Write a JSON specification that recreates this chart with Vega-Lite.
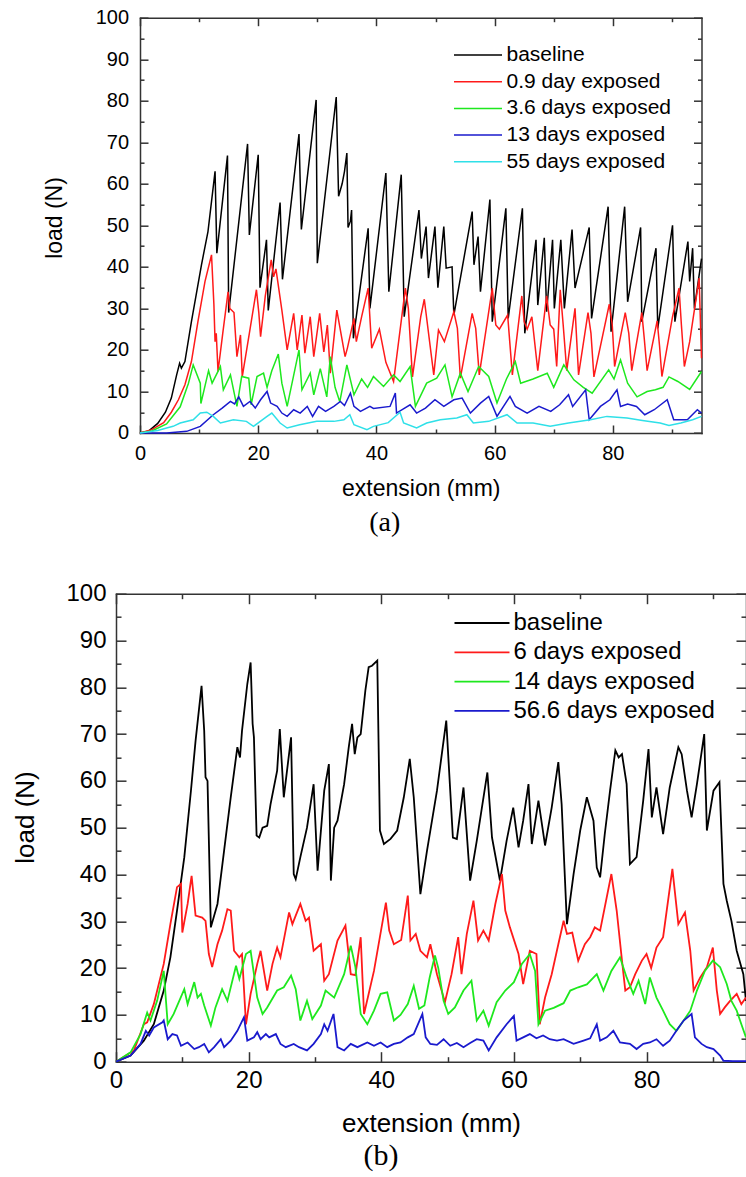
{
"$schema": "https://vega.github.io/schema/vega-lite/v6.json",
"background": "white",
"padding": {"left": 0, "top": 7.7, "right": 0, "bottom": 0},
"config": {
  "font": "Liberation Sans",
  "view": {"stroke": null},
  "axis": {"domainColor": "#333333", "domainWidth": 1.5, "domainCap": "square", "tickColor": "#333333", "tickWidth": 1.5, "grid": false, "labelColor": "#000000", "titleColor": "#000000", "titleFontWeight": "normal", "labelFlush": false, "labelOverlap": false, "labelFont": "Liberation Sans", "titleFont": "Liberation Sans"}
},
"datasets": {
"a": [
{"s":"baseline","x":0,"y":0},{"s":"baseline","x":1.5,"y":0.5},{"s":"baseline","x":3,"y":2.3},{"s":"baseline","x":4.3,"y":5},{"s":"baseline","x":5.3,"y":8.4},{"s":"baseline","x":6.2,"y":14},{"s":"baseline","x":6.7,"y":16.8},{"s":"baseline","x":7,"y":15.6},{"s":"baseline","x":7.6,"y":17.2},{"s":"baseline","x":8.7,"y":26.8},{"s":"baseline","x":10.4,"y":40.5},{"s":"baseline","x":11.5,"y":48.5},{"s":"baseline","x":12.7,"y":63},{"s":"baseline","x":13,"y":43.3},{"s":"baseline","x":14.8,"y":66.8},{"s":"baseline","x":15,"y":29},{"s":"baseline","x":18.2,"y":69.6},{"s":"baseline","x":18.5,"y":47.7},{"s":"baseline","x":20,"y":67},{"s":"baseline","x":20.3,"y":35},{"s":"baseline","x":21.4,"y":46.5},{"s":"baseline","x":21.7,"y":29.5},{"s":"baseline","x":23.7,"y":55.5},{"s":"baseline","x":24.1,"y":37},{"s":"baseline","x":26.9,"y":72},{"s":"baseline","x":27.3,"y":49},{"s":"baseline","x":29.8,"y":80.2},{"s":"baseline","x":30,"y":40.9},{"s":"baseline","x":33.2,"y":80.9},{"s":"baseline","x":33.6,"y":57},{"s":"baseline","x":34.2,"y":60},{"s":"baseline","x":34.6,"y":63},{"s":"baseline","x":35,"y":67.4},{"s":"baseline","x":35.2,"y":49.5},{"s":"baseline","x":35.6,"y":51},{"s":"baseline","x":35.8,"y":53.7},{"s":"baseline","x":36.1,"y":22.8},{"s":"baseline","x":38.6,"y":49.3},{"s":"baseline","x":38.9,"y":30},{"s":"baseline","x":41.6,"y":62.6},{"s":"baseline","x":42.1,"y":34},{"s":"baseline","x":44.2,"y":62.2},{"s":"baseline","x":44.7,"y":28},{"s":"baseline","x":47.2,"y":53.7},{"s":"baseline","x":47.6,"y":42},{"s":"baseline","x":48.4,"y":49.7},{"s":"baseline","x":48.8,"y":37.3},{"s":"baseline","x":49.9,"y":49.7},{"s":"baseline","x":50.4,"y":35},{"s":"baseline","x":51.4,"y":49.7},{"s":"baseline","x":51.8,"y":39.7},{"s":"baseline","x":52.8,"y":40},{"s":"baseline","x":53.1,"y":28.4},{"s":"baseline","x":56.2,"y":53.3},{"s":"baseline","x":56.5,"y":40.5},{"s":"baseline","x":57.2,"y":47.3},{"s":"baseline","x":57.6,"y":34},{"s":"baseline","x":59.2,"y":56.2},{"s":"baseline","x":59.6,"y":26.8},{"s":"baseline","x":61.9,"y":54.1},{"s":"baseline","x":62.3,"y":27.6},{"s":"baseline","x":64.7,"y":54.1},{"s":"baseline","x":65.1,"y":24},{"s":"baseline","x":67,"y":46.5},{"s":"baseline","x":67.3,"y":30.8},{"s":"baseline","x":68.4,"y":47},{"s":"baseline","x":68.8,"y":29.2},{"s":"baseline","x":69.8,"y":46.5},{"s":"baseline","x":70.1,"y":30},{"s":"baseline","x":71.2,"y":46.5},{"s":"baseline","x":71.8,"y":30},{"s":"baseline","x":73.1,"y":49},{"s":"baseline","x":73.6,"y":34.9},{"s":"baseline","x":76,"y":49.5},{"s":"baseline","x":76.4,"y":27.6},{"s":"baseline","x":79.2,"y":54.5},{"s":"baseline","x":79.7,"y":24.4},{"s":"baseline","x":82,"y":54.5},{"s":"baseline","x":82.5,"y":31.6},{"s":"baseline","x":84.7,"y":49.5},{"s":"baseline","x":84.9,"y":26.8},{"s":"baseline","x":87.3,"y":44.5},{"s":"baseline","x":87.6,"y":25.2},{"s":"baseline","x":90.1,"y":50},{"s":"baseline","x":90.5,"y":26.8},{"s":"baseline","x":92.7,"y":46.1},{"s":"baseline","x":93,"y":36.5},{"s":"baseline","x":93.5,"y":44.5},{"s":"baseline","x":93.8,"y":30},{"s":"baseline","x":95,"y":42},
{"s":"0.9 day exposed","x":0,"y":0},{"s":"0.9 day exposed","x":2,"y":0.8},{"s":"0.9 day exposed","x":4,"y":2.5},{"s":"0.9 day exposed","x":5.3,"y":5},{"s":"0.9 day exposed","x":6.5,"y":8},{"s":"0.9 day exposed","x":7.6,"y":11.6},{"s":"0.9 day exposed","x":8.7,"y":17.2},{"s":"0.9 day exposed","x":9.8,"y":26.8},{"s":"0.9 day exposed","x":11,"y":36.5},{"s":"0.9 day exposed","x":12.1,"y":42.9},{"s":"0.9 day exposed","x":12.5,"y":31},{"s":"0.9 day exposed","x":12.7,"y":22},{"s":"0.9 day exposed","x":12.9,"y":24},{"s":"0.9 day exposed","x":13.2,"y":14.8},{"s":"0.9 day exposed","x":14,"y":24},{"s":"0.9 day exposed","x":14.9,"y":34},{"s":"0.9 day exposed","x":15.2,"y":30},{"s":"0.9 day exposed","x":15.9,"y":29},{"s":"0.9 day exposed","x":16.4,"y":18.4},{"s":"0.9 day exposed","x":17,"y":23.6},{"s":"0.9 day exposed","x":17.3,"y":13.6},{"s":"0.9 day exposed","x":18.5,"y":24},{"s":"0.9 day exposed","x":19.7,"y":34.5},{"s":"0.9 day exposed","x":20.1,"y":29},{"s":"0.9 day exposed","x":20.4,"y":23.2},{"s":"0.9 day exposed","x":21.2,"y":33},{"s":"0.9 day exposed","x":22.2,"y":41.7},{"s":"0.9 day exposed","x":22.6,"y":37.6},{"s":"0.9 day exposed","x":23,"y":39.5},{"s":"0.9 day exposed","x":24,"y":29.6},{"s":"0.9 day exposed","x":24.9,"y":20},{"s":"0.9 day exposed","x":26,"y":28.8},{"s":"0.9 day exposed","x":26.6,"y":20},{"s":"0.9 day exposed","x":27.4,"y":28.4},{"s":"0.9 day exposed","x":27.9,"y":19.2},{"s":"0.9 day exposed","x":28.8,"y":28},{"s":"0.9 day exposed","x":29.4,"y":18.4},{"s":"0.9 day exposed","x":30.4,"y":28.8},{"s":"0.9 day exposed","x":31.1,"y":19.5},{"s":"0.9 day exposed","x":31.7,"y":26},{"s":"0.9 day exposed","x":32.2,"y":14.4},{"s":"0.9 day exposed","x":33.3,"y":29.6},{"s":"0.9 day exposed","x":34.7,"y":18.4},{"s":"0.9 day exposed","x":35.1,"y":20.5},{"s":"0.9 day exposed","x":36.2,"y":27.6},{"s":"0.9 day exposed","x":36.6,"y":22},{"s":"0.9 day exposed","x":37.5,"y":28},{"s":"0.9 day exposed","x":38.6,"y":34.9},{"s":"0.9 day exposed","x":39.2,"y":20.4},{"s":"0.9 day exposed","x":40.5,"y":25},{"s":"0.9 day exposed","x":41.6,"y":17},{"s":"0.9 day exposed","x":42.9,"y":12.4},{"s":"0.9 day exposed","x":44.9,"y":34.9},{"s":"0.9 day exposed","x":45.4,"y":30},{"s":"0.9 day exposed","x":46.1,"y":13.5},{"s":"0.9 day exposed","x":47.5,"y":28},{"s":"0.9 day exposed","x":48.1,"y":32.2},{"s":"0.9 day exposed","x":49.7,"y":14},{"s":"0.9 day exposed","x":50.5,"y":24.8},{"s":"0.9 day exposed","x":51.5,"y":22},{"s":"0.9 day exposed","x":53.1,"y":29.2},{"s":"0.9 day exposed","x":53.7,"y":25.2},{"s":"0.9 day exposed","x":54.2,"y":13.2},{"s":"0.9 day exposed","x":56.2,"y":28.8},{"s":"0.9 day exposed","x":56.8,"y":25.2},{"s":"0.9 day exposed","x":57.4,"y":14},{"s":"0.9 day exposed","x":59.6,"y":34.9},{"s":"0.9 day exposed","x":60.2,"y":26},{"s":"0.9 day exposed","x":60.8,"y":25},{"s":"0.9 day exposed","x":62.2,"y":28.4},{"s":"0.9 day exposed","x":63,"y":14},{"s":"0.9 day exposed","x":64.6,"y":33},{"s":"0.9 day exposed","x":65,"y":26.8},{"s":"0.9 day exposed","x":65.5,"y":25},{"s":"0.9 day exposed","x":66.3,"y":28},{"s":"0.9 day exposed","x":67.3,"y":15},{"s":"0.9 day exposed","x":68.8,"y":33},{"s":"0.9 day exposed","x":69.4,"y":26},{"s":"0.9 day exposed","x":70,"y":25},{"s":"0.9 day exposed","x":70.5,"y":16},{"s":"0.9 day exposed","x":71.1,"y":34.5},{"s":"0.9 day exposed","x":71.6,"y":26},{"s":"0.9 day exposed","x":72.2,"y":15},{"s":"0.9 day exposed","x":73.6,"y":30},{"s":"0.9 day exposed","x":74.2,"y":14},{"s":"0.9 day exposed","x":75.8,"y":29},{"s":"0.9 day exposed","x":76.3,"y":24},{"s":"0.9 day exposed","x":76.8,"y":13.5},{"s":"0.9 day exposed","x":79.4,"y":31},{"s":"0.9 day exposed","x":79.9,"y":26},{"s":"0.9 day exposed","x":80.3,"y":16},{"s":"0.9 day exposed","x":82.1,"y":29},{"s":"0.9 day exposed","x":82.7,"y":24},{"s":"0.9 day exposed","x":83.2,"y":15},{"s":"0.9 day exposed","x":84.9,"y":29},{"s":"0.9 day exposed","x":85.3,"y":23},{"s":"0.9 day exposed","x":85.8,"y":15},{"s":"0.9 day exposed","x":87.5,"y":27},{"s":"0.9 day exposed","x":87.9,"y":21},{"s":"0.9 day exposed","x":88.3,"y":13.6},{"s":"0.9 day exposed","x":90.1,"y":28},{"s":"0.9 day exposed","x":91.2,"y":34.9},{"s":"0.9 day exposed","x":91.6,"y":26},{"s":"0.9 day exposed","x":92.1,"y":16},{"s":"0.9 day exposed","x":93,"y":22},{"s":"0.9 day exposed","x":94.6,"y":37.3},{"s":"0.9 day exposed","x":95,"y":18},
{"s":"3.6 days exposed","x":0,"y":0},{"s":"3.6 days exposed","x":2,"y":0.5},{"s":"3.6 days exposed","x":4.5,"y":2.2},{"s":"3.6 days exposed","x":6.8,"y":6.3},{"s":"3.6 days exposed","x":8.2,"y":12},{"s":"3.6 days exposed","x":9,"y":16.4},{"s":"3.6 days exposed","x":10.2,"y":12},{"s":"3.6 days exposed","x":10.3,"y":7.1},{"s":"3.6 days exposed","x":11.6,"y":15},{"s":"3.6 days exposed","x":12.2,"y":12},{"s":"3.6 days exposed","x":13.6,"y":16},{"s":"3.6 days exposed","x":14.1,"y":10.4},{"s":"3.6 days exposed","x":15.3,"y":14},{"s":"3.6 days exposed","x":16.4,"y":6.4},{"s":"3.6 days exposed","x":17.2,"y":13.6},{"s":"3.6 days exposed","x":18.4,"y":13.2},{"s":"3.6 days exposed","x":18.8,"y":6.8},{"s":"3.6 days exposed","x":19.8,"y":13.6},{"s":"3.6 days exposed","x":20.9,"y":14.4},{"s":"3.6 days exposed","x":21.5,"y":11},{"s":"3.6 days exposed","x":22.3,"y":15},{"s":"3.6 days exposed","x":23.4,"y":19},{"s":"3.6 days exposed","x":24,"y":12},{"s":"3.6 days exposed","x":24.9,"y":6.4},{"s":"3.6 days exposed","x":26.9,"y":20},{"s":"3.6 days exposed","x":27.4,"y":10.4},{"s":"3.6 days exposed","x":28.8,"y":14.4},{"s":"3.6 days exposed","x":29.4,"y":9.2},{"s":"3.6 days exposed","x":30.5,"y":15.5},{"s":"3.6 days exposed","x":31.6,"y":8.7},{"s":"3.6 days exposed","x":32.2,"y":18.4},{"s":"3.6 days exposed","x":33,"y":11},{"s":"3.6 days exposed","x":33.8,"y":7.5},{"s":"3.6 days exposed","x":35,"y":16.4},{"s":"3.6 days exposed","x":36.2,"y":9.2},{"s":"3.6 days exposed","x":37.5,"y":13},{"s":"3.6 days exposed","x":38.5,"y":11},{"s":"3.6 days exposed","x":39.5,"y":13.6},{"s":"3.6 days exposed","x":41.2,"y":11.2},{"s":"3.6 days exposed","x":42.9,"y":14},{"s":"3.6 days exposed","x":44,"y":12.4},{"s":"3.6 days exposed","x":45.7,"y":16},{"s":"3.6 days exposed","x":46.6,"y":6.4},{"s":"3.6 days exposed","x":48.5,"y":12},{"s":"3.6 days exposed","x":50.2,"y":13.2},{"s":"3.6 days exposed","x":51.6,"y":16.4},{"s":"3.6 days exposed","x":52.8,"y":8.7},{"s":"3.6 days exposed","x":54.2,"y":14.4},{"s":"3.6 days exposed","x":55.5,"y":10},{"s":"3.6 days exposed","x":57.3,"y":16},{"s":"3.6 days exposed","x":59,"y":13.6},{"s":"3.6 days exposed","x":60.4,"y":7.2},{"s":"3.6 days exposed","x":62,"y":13},{"s":"3.6 days exposed","x":63.5,"y":17.2},{"s":"3.6 days exposed","x":64.4,"y":12},{"s":"3.6 days exposed","x":66.5,"y":13},{"s":"3.6 days exposed","x":68.9,"y":14.4},{"s":"3.6 days exposed","x":70,"y":11},{"s":"3.6 days exposed","x":71.7,"y":16.4},{"s":"3.6 days exposed","x":73.4,"y":12.8},{"s":"3.6 days exposed","x":75,"y":11},{"s":"3.6 days exposed","x":76.5,"y":9.6},{"s":"3.6 days exposed","x":79.3,"y":15.2},{"s":"3.6 days exposed","x":80.2,"y":13},{"s":"3.6 days exposed","x":81.3,"y":17.6},{"s":"3.6 days exposed","x":82.5,"y":12},{"s":"3.6 days exposed","x":84.1,"y":8.7},{"s":"3.6 days exposed","x":85.8,"y":10},{"s":"3.6 days exposed","x":87.2,"y":10.4},{"s":"3.6 days exposed","x":88.5,"y":11},{"s":"3.6 days exposed","x":89.5,"y":13.5},{"s":"3.6 days exposed","x":91,"y":12.4},{"s":"3.6 days exposed","x":93,"y":10.5},{"s":"3.6 days exposed","x":95,"y":14.8},
{"s":"13 days exposed","x":0,"y":0},{"s":"13 days exposed","x":4.5,"y":0},{"s":"13 days exposed","x":7.9,"y":0.4},{"s":"13 days exposed","x":10.2,"y":1.6},{"s":"13 days exposed","x":12.4,"y":4.4},{"s":"13 days exposed","x":13.9,"y":6},{"s":"13 days exposed","x":15.3,"y":7.6},{"s":"13 days exposed","x":16,"y":7},{"s":"13 days exposed","x":16.7,"y":8.7},{"s":"13 days exposed","x":17.5,"y":6.4},{"s":"13 days exposed","x":18.6,"y":7.6},{"s":"13 days exposed","x":19.5,"y":6},{"s":"13 days exposed","x":20.4,"y":8},{"s":"13 days exposed","x":21.5,"y":10},{"s":"13 days exposed","x":22.1,"y":7.2},{"s":"13 days exposed","x":23.2,"y":6.4},{"s":"13 days exposed","x":24,"y":4.8},{"s":"13 days exposed","x":24.9,"y":4},{"s":"13 days exposed","x":26,"y":5.6},{"s":"13 days exposed","x":27.1,"y":4.8},{"s":"13 days exposed","x":28.3,"y":6.4},{"s":"13 days exposed","x":29.2,"y":4},{"s":"13 days exposed","x":30.2,"y":6.4},{"s":"13 days exposed","x":31.4,"y":5.2},{"s":"13 days exposed","x":32.8,"y":6.4},{"s":"13 days exposed","x":33.9,"y":7.6},{"s":"13 days exposed","x":34.6,"y":6.6},{"s":"13 days exposed","x":35.6,"y":9.6},{"s":"13 days exposed","x":36.2,"y":6.4},{"s":"13 days exposed","x":37.3,"y":5.2},{"s":"13 days exposed","x":38.9,"y":6.4},{"s":"13 days exposed","x":39.5,"y":5.9},{"s":"13 days exposed","x":42.3,"y":6.4},{"s":"13 days exposed","x":43.2,"y":9.6},{"s":"13 days exposed","x":43.4,"y":4.8},{"s":"13 days exposed","x":45.7,"y":6.8},{"s":"13 days exposed","x":46.8,"y":4.8},{"s":"13 days exposed","x":48.3,"y":6},{"s":"13 days exposed","x":49.9,"y":8},{"s":"13 days exposed","x":51.4,"y":6.4},{"s":"13 days exposed","x":53.1,"y":8},{"s":"13 days exposed","x":54.5,"y":8.4},{"s":"13 days exposed","x":55.9,"y":4.8},{"s":"13 days exposed","x":57.6,"y":7.2},{"s":"13 days exposed","x":59,"y":8.8},{"s":"13 days exposed","x":60.4,"y":4},{"s":"13 days exposed","x":62.6,"y":8.8},{"s":"13 days exposed","x":63.5,"y":6.4},{"s":"13 days exposed","x":65.5,"y":4.8},{"s":"13 days exposed","x":67.5,"y":6.4},{"s":"13 days exposed","x":69.5,"y":5.2},{"s":"13 days exposed","x":71,"y":6.8},{"s":"13 days exposed","x":72.5,"y":9.2},{"s":"13 days exposed","x":73.2,"y":6.4},{"s":"13 days exposed","x":75.4,"y":10.4},{"s":"13 days exposed","x":76,"y":3.2},{"s":"13 days exposed","x":77.9,"y":6.4},{"s":"13 days exposed","x":79.5,"y":8},{"s":"13 days exposed","x":80.7,"y":10.4},{"s":"13 days exposed","x":81.3,"y":6.4},{"s":"13 days exposed","x":82.5,"y":7},{"s":"13 days exposed","x":84,"y":6.4},{"s":"13 days exposed","x":85.4,"y":4.4},{"s":"13 days exposed","x":87,"y":5.6},{"s":"13 days exposed","x":89.2,"y":8},{"s":"13 days exposed","x":90.3,"y":3.2},{"s":"13 days exposed","x":92.6,"y":3.2},{"s":"13 days exposed","x":94.3,"y":5.6},{"s":"13 days exposed","x":95,"y":4.8},
{"s":"55 days exposed","x":0,"y":0},{"s":"55 days exposed","x":3,"y":0.6},{"s":"55 days exposed","x":4.5,"y":1.2},{"s":"55 days exposed","x":5.6,"y":1.6},{"s":"55 days exposed","x":6.8,"y":2.4},{"s":"55 days exposed","x":9,"y":3.2},{"s":"55 days exposed","x":10.2,"y":4.8},{"s":"55 days exposed","x":11.3,"y":5},{"s":"55 days exposed","x":12.4,"y":4},{"s":"55 days exposed","x":13.6,"y":2.4},{"s":"55 days exposed","x":15.8,"y":3.2},{"s":"55 days exposed","x":18,"y":2.8},{"s":"55 days exposed","x":19.2,"y":1.6},{"s":"55 days exposed","x":21.5,"y":4},{"s":"55 days exposed","x":22.3,"y":4.8},{"s":"55 days exposed","x":23.7,"y":2.4},{"s":"55 days exposed","x":24.9,"y":1.2},{"s":"55 days exposed","x":27,"y":2},{"s":"55 days exposed","x":29.9,"y":2.8},{"s":"55 days exposed","x":32.8,"y":2.8},{"s":"55 days exposed","x":34.5,"y":3.2},{"s":"55 days exposed","x":35.5,"y":4.4},{"s":"55 days exposed","x":36.2,"y":2},{"s":"55 days exposed","x":38.4,"y":0.8},{"s":"55 days exposed","x":39.5,"y":1.6},{"s":"55 days exposed","x":42,"y":2.5},{"s":"55 days exposed","x":44,"y":5},{"s":"55 days exposed","x":44.6,"y":2.4},{"s":"55 days exposed","x":46.8,"y":1.2},{"s":"55 days exposed","x":48.5,"y":2.4},{"s":"55 days exposed","x":50.8,"y":3.2},{"s":"55 days exposed","x":53.6,"y":3.6},{"s":"55 days exposed","x":55.3,"y":4.4},{"s":"55 days exposed","x":56.4,"y":2.4},{"s":"55 days exposed","x":59,"y":2.8},{"s":"55 days exposed","x":62.1,"y":4.4},{"s":"55 days exposed","x":63.8,"y":2.4},{"s":"55 days exposed","x":66.5,"y":2.4},{"s":"55 days exposed","x":69.4,"y":1.6},{"s":"55 days exposed","x":72.5,"y":2.4},{"s":"55 days exposed","x":76.2,"y":3.2},{"s":"55 days exposed","x":79,"y":4},{"s":"55 days exposed","x":82.4,"y":3.6},{"s":"55 days exposed","x":85,"y":3},{"s":"55 days exposed","x":88,"y":2.4},{"s":"55 days exposed","x":89.5,"y":1.8},{"s":"55 days exposed","x":91.5,"y":2.4},{"s":"55 days exposed","x":93.5,"y":3.2},{"s":"55 days exposed","x":95,"y":4}
],
"b": [
{"s":"baseline","x":0,"y":0},{"s":"baseline","x":2.2,"y":1.3},{"s":"baseline","x":4.2,"y":4.5},{"s":"baseline","x":5.7,"y":8},{"s":"baseline","x":7.2,"y":15.2},{"s":"baseline","x":8.2,"y":22.3},{"s":"baseline","x":9.2,"y":32.3},{"s":"baseline","x":10.3,"y":43.7},{"s":"baseline","x":11.3,"y":57.9},{"s":"baseline","x":12,"y":68.6},{"s":"baseline","x":12.9,"y":80.3},{"s":"baseline","x":13.3,"y":70.7},{"s":"baseline","x":13.5,"y":60.8},{"s":"baseline","x":13.8,"y":60},{"s":"baseline","x":14.3,"y":28.7},{"s":"baseline","x":15.3,"y":33.7},{"s":"baseline","x":16.3,"y":45.1},{"s":"baseline","x":17.3,"y":56.5},{"s":"baseline","x":18.3,"y":67.2},{"s":"baseline","x":18.7,"y":65},{"s":"baseline","x":19,"y":70.7},{"s":"baseline","x":19.8,"y":80.7},{"s":"baseline","x":20.3,"y":85.3},{"s":"baseline","x":20.6,"y":72.2},{"s":"baseline","x":20.8,"y":69.3},{"s":"baseline","x":21.2,"y":48.3},{"s":"baseline","x":21.6,"y":47.9},{"s":"baseline","x":22.1,"y":50},{"s":"baseline","x":22.8,"y":50.4},{"s":"baseline","x":23.3,"y":55},{"s":"baseline","x":24.3,"y":62.2},{"s":"baseline","x":24.7,"y":71.1},{"s":"baseline","x":25.3,"y":56.5},{"s":"baseline","x":26.4,"y":69.3},{"s":"baseline","x":26.8,"y":40.1},{"s":"baseline","x":27.1,"y":39},{"s":"baseline","x":27.8,"y":43.7},{"s":"baseline","x":28.8,"y":50},{"s":"baseline","x":29.8,"y":59.3},{"s":"baseline","x":30.4,"y":40.8},{"s":"baseline","x":31.4,"y":57.9},{"s":"baseline","x":32.1,"y":63.6},{"s":"baseline","x":32.4,"y":38.7},{"s":"baseline","x":32.9,"y":50},{"s":"baseline","x":33.4,"y":51.5},{"s":"baseline","x":34.4,"y":59.3},{"s":"baseline","x":35.1,"y":67.2},{"s":"baseline","x":35.6,"y":72.2},{"s":"baseline","x":36,"y":65.7},{"s":"baseline","x":36.4,"y":69.3},{"s":"baseline","x":36.9,"y":70},{"s":"baseline","x":37.6,"y":79.3},{"s":"baseline","x":38.1,"y":84.3},{"s":"baseline","x":38.6,"y":84.6},{"s":"baseline","x":39.4,"y":85.7},{"s":"baseline","x":39.8,"y":49.4},{"s":"baseline","x":40.4,"y":46.5},{"s":"baseline","x":41.4,"y":47.6},{"s":"baseline","x":42.4,"y":49.4},{"s":"baseline","x":43.4,"y":56.5},{"s":"baseline","x":44.3,"y":64.7},{"s":"baseline","x":44.9,"y":56.5},{"s":"baseline","x":45.4,"y":46.2},{"s":"baseline","x":45.9,"y":35.8},{"s":"baseline","x":46.9,"y":45.1},{"s":"baseline","x":48.4,"y":57.9},{"s":"baseline","x":49.8,"y":72.9},{"s":"baseline","x":50.8,"y":47.9},{"s":"baseline","x":51.4,"y":47.6},{"s":"baseline","x":52.4,"y":58.6},{"s":"baseline","x":53.4,"y":38.7},{"s":"baseline","x":54.4,"y":47.2},{"s":"baseline","x":56,"y":61.8},{"s":"baseline","x":56.7,"y":47.9},{"s":"baseline","x":57.9,"y":38.7},{"s":"baseline","x":58.9,"y":47.2},{"s":"baseline","x":59.9,"y":54.3},{"s":"baseline","x":60.7,"y":45.8},{"s":"baseline","x":61.4,"y":51.5},{"s":"baseline","x":62.2,"y":59.3},{"s":"baseline","x":62.7,"y":46.5},{"s":"baseline","x":63.7,"y":55.8},{"s":"baseline","x":64.7,"y":46.2},{"s":"baseline","x":65.7,"y":54.3},{"s":"baseline","x":66.7,"y":64},{"s":"baseline","x":67.2,"y":55},{"s":"baseline","x":68,"y":29.4},{"s":"baseline","x":69,"y":40.1},{"s":"baseline","x":70,"y":49.4},{"s":"baseline","x":71,"y":56.5},{"s":"baseline","x":72,"y":51.5},{"s":"baseline","x":72.5,"y":41.5},{"s":"baseline","x":73,"y":39.4},{"s":"baseline","x":73.7,"y":48.6},{"s":"baseline","x":74.5,"y":57.9},{"s":"baseline","x":75.3,"y":66.5},{"s":"baseline","x":75.8,"y":65},{"s":"baseline","x":76.3,"y":65.7},{"s":"baseline","x":77,"y":59.3},{"s":"baseline","x":77.5,"y":42.2},{"s":"baseline","x":78.5,"y":43.7},{"s":"baseline","x":79.5,"y":55.8},{"s":"baseline","x":80.3,"y":66.8},{"s":"baseline","x":80.8,"y":52.2},{"s":"baseline","x":81.5,"y":58.6},{"s":"baseline","x":82.5,"y":48.6},{"s":"baseline","x":83.5,"y":58.6},{"s":"baseline","x":84.8,"y":67.2},{"s":"baseline","x":85.3,"y":65.7},{"s":"baseline","x":86.1,"y":57.9},{"s":"baseline","x":86.8,"y":52.2},{"s":"baseline","x":87.6,"y":59.3},{"s":"baseline","x":88.7,"y":70},{"s":"baseline","x":89.1,"y":49.4},{"s":"baseline","x":90.1,"y":57.9},{"s":"baseline","x":91,"y":59.7},{"s":"baseline","x":91.6,"y":38},{"s":"baseline","x":92.1,"y":34.4},{"s":"baseline","x":92.8,"y":30.1},{"s":"baseline","x":93.6,"y":23.7},{"s":"baseline","x":94.6,"y":18.7},{"s":"baseline","x":95,"y":13},
{"s":"6 days exposed","x":0,"y":0},{"s":"6 days exposed","x":2.7,"y":2.4},{"s":"6 days exposed","x":4.2,"y":8},{"s":"6 days exposed","x":4.7,"y":8.4},{"s":"6 days exposed","x":5.7,"y":12.3},{"s":"6 days exposed","x":7.2,"y":20.9},{"s":"6 days exposed","x":8.2,"y":29.4},{"s":"6 days exposed","x":9.2,"y":37.3},{"s":"6 days exposed","x":9.8,"y":38},{"s":"6 days exposed","x":10,"y":27.6},{"s":"6 days exposed","x":10.8,"y":33.7},{"s":"6 days exposed","x":11.4,"y":39.7},{"s":"6 days exposed","x":12,"y":31.2},{"s":"6 days exposed","x":13,"y":30.8},{"s":"6 days exposed","x":13.5,"y":30.1},{"s":"6 days exposed","x":14,"y":23},{"s":"6 days exposed","x":14.5,"y":20.2},{"s":"6 days exposed","x":15.3,"y":25.1},{"s":"6 days exposed","x":16,"y":28},{"s":"6 days exposed","x":16.8,"y":32.6},{"s":"6 days exposed","x":17.3,"y":32.3},{"s":"6 days exposed","x":17.8,"y":23.7},{"s":"6 days exposed","x":18.6,"y":22.3},{"s":"6 days exposed","x":19,"y":23},{"s":"6 days exposed","x":19.6,"y":8},{"s":"6 days exposed","x":20.3,"y":14.5},{"s":"6 days exposed","x":21.3,"y":20.9},{"s":"6 days exposed","x":21.8,"y":23.7},{"s":"6 days exposed","x":22.8,"y":15.2},{"s":"6 days exposed","x":23.6,"y":20.9},{"s":"6 days exposed","x":24.3,"y":24.4},{"s":"6 days exposed","x":24.8,"y":22.3},{"s":"6 days exposed","x":26.1,"y":31.9},{"s":"6 days exposed","x":26.6,"y":29.4},{"s":"6 days exposed","x":27.1,"y":31.2},{"s":"6 days exposed","x":27.8,"y":33.7},{"s":"6 days exposed","x":28.6,"y":30.1},{"s":"6 days exposed","x":29.1,"y":30.8},{"s":"6 days exposed","x":29.8,"y":23.7},{"s":"6 days exposed","x":30.9,"y":25.1},{"s":"6 days exposed","x":31.4,"y":17.3},{"s":"6 days exposed","x":32.1,"y":18.7},{"s":"6 days exposed","x":33.4,"y":25.9},{"s":"6 days exposed","x":34.6,"y":29.1},{"s":"6 days exposed","x":35.4,"y":18.7},{"s":"6 days exposed","x":36.1,"y":18.5},{"s":"6 days exposed","x":36.9,"y":26.6},{"s":"6 days exposed","x":37.4,"y":10.2},{"s":"6 days exposed","x":38.9,"y":19.4},{"s":"6 days exposed","x":40.7,"y":34},{"s":"6 days exposed","x":41.2,"y":28},{"s":"6 days exposed","x":41.9,"y":25.1},{"s":"6 days exposed","x":43,"y":26},{"s":"6 days exposed","x":44,"y":35.5},{"s":"6 days exposed","x":44.4,"y":25.9},{"s":"6 days exposed","x":45.2,"y":27.3},{"s":"6 days exposed","x":45.9,"y":23.7},{"s":"6 days exposed","x":46.9,"y":22.3},{"s":"6 days exposed","x":47.4,"y":25.1},{"s":"6 days exposed","x":48.4,"y":18.7},{"s":"6 days exposed","x":49.6,"y":12.7},{"s":"6 days exposed","x":50.6,"y":18.7},{"s":"6 days exposed","x":51.6,"y":26.6},{"s":"6 days exposed","x":52.1,"y":18.7},{"s":"6 days exposed","x":52.9,"y":27.3},{"s":"6 days exposed","x":53.9,"y":34.4},{"s":"6 days exposed","x":54.6,"y":25.9},{"s":"6 days exposed","x":55.4,"y":28},{"s":"6 days exposed","x":56.2,"y":25.9},{"s":"6 days exposed","x":57.2,"y":33.7},{"s":"6 days exposed","x":58.2,"y":40.1},{"s":"6 days exposed","x":58.7,"y":32.3},{"s":"6 days exposed","x":59.4,"y":28.7},{"s":"6 days exposed","x":60.7,"y":23},{"s":"6 days exposed","x":61.4,"y":16.6},{"s":"6 days exposed","x":62.4,"y":23.7},{"s":"6 days exposed","x":63.4,"y":23},{"s":"6 days exposed","x":63.9,"y":8},{"s":"6 days exposed","x":64.7,"y":13.7},{"s":"6 days exposed","x":65.7,"y":18.7},{"s":"6 days exposed","x":66.7,"y":25.1},{"s":"6 days exposed","x":67.5,"y":30.1},{"s":"6 days exposed","x":68,"y":27.3},{"s":"6 days exposed","x":68.8,"y":27.6},{"s":"6 days exposed","x":69.7,"y":21.6},{"s":"6 days exposed","x":70.7,"y":25.1},{"s":"6 days exposed","x":71.5,"y":26.6},{"s":"6 days exposed","x":72.2,"y":28.7},{"s":"6 days exposed","x":73,"y":28},{"s":"6 days exposed","x":74.7,"y":40.1},{"s":"6 days exposed","x":75.5,"y":32.3},{"s":"6 days exposed","x":76.3,"y":21.6},{"s":"6 days exposed","x":76.8,"y":15.2},{"s":"6 days exposed","x":77.5,"y":15.9},{"s":"6 days exposed","x":78.3,"y":18.7},{"s":"6 days exposed","x":79.3,"y":21.6},{"s":"6 days exposed","x":80,"y":23},{"s":"6 days exposed","x":80.7,"y":20},{"s":"6 days exposed","x":81.5,"y":24.4},{"s":"6 days exposed","x":82.5,"y":26.6},{"s":"6 days exposed","x":83.9,"y":41.2},{"s":"6 days exposed","x":84.8,"y":29.4},{"s":"6 days exposed","x":85.8,"y":31.9},{"s":"6 days exposed","x":86.6,"y":23.7},{"s":"6 days exposed","x":87.1,"y":15.2},{"s":"6 days exposed","x":88.1,"y":18},{"s":"6 days exposed","x":89.1,"y":20.2},{"s":"6 days exposed","x":90,"y":24.4},{"s":"6 days exposed","x":90.6,"y":15.2},{"s":"6 days exposed","x":91.1,"y":10.2},{"s":"6 days exposed","x":91.8,"y":11.6},{"s":"6 days exposed","x":92.6,"y":13},{"s":"6 days exposed","x":93.6,"y":14.5},{"s":"6 days exposed","x":94.3,"y":12.3},{"s":"6 days exposed","x":95,"y":13.7},
{"s":"14 days exposed","x":0,"y":0},{"s":"14 days exposed","x":2.2,"y":2},{"s":"14 days exposed","x":3.7,"y":5.9},{"s":"14 days exposed","x":4.7,"y":10.5},{"s":"14 days exposed","x":5.2,"y":8.8},{"s":"14 days exposed","x":6.2,"y":13},{"s":"14 days exposed","x":7.2,"y":19.4},{"s":"14 days exposed","x":7.8,"y":8},{"s":"14 days exposed","x":8.7,"y":10.2},{"s":"14 days exposed","x":10.3,"y":15.5},{"s":"14 days exposed","x":10.8,"y":12.3},{"s":"14 days exposed","x":11.8,"y":17},{"s":"14 days exposed","x":12.3,"y":13.7},{"s":"14 days exposed","x":12.8,"y":14.5},{"s":"14 days exposed","x":13.3,"y":12},{"s":"14 days exposed","x":14.3,"y":7.7},{"s":"14 days exposed","x":15,"y":11.6},{"s":"14 days exposed","x":16,"y":15.5},{"s":"14 days exposed","x":16.8,"y":13},{"s":"14 days exposed","x":18.1,"y":20.5},{"s":"14 days exposed","x":18.6,"y":17.7},{"s":"14 days exposed","x":19.6,"y":23},{"s":"14 days exposed","x":20.3,"y":23.7},{"s":"14 days exposed","x":20.8,"y":18.7},{"s":"14 days exposed","x":21.3,"y":13.7},{"s":"14 days exposed","x":22.1,"y":10.2},{"s":"14 days exposed","x":22.8,"y":11.6},{"s":"14 days exposed","x":24.3,"y":15.2},{"s":"14 days exposed","x":25.3,"y":15.9},{"s":"14 days exposed","x":26.4,"y":18.4},{"s":"14 days exposed","x":27.1,"y":15.5},{"s":"14 days exposed","x":27.8,"y":8.8},{"s":"14 days exposed","x":28.8,"y":13},{"s":"14 days exposed","x":29.6,"y":9.1},{"s":"14 days exposed","x":30.9,"y":12},{"s":"14 days exposed","x":31.6,"y":15.2},{"s":"14 days exposed","x":32.9,"y":13.7},{"s":"14 days exposed","x":34.4,"y":18.7},{"s":"14 days exposed","x":35.4,"y":24.8},{"s":"14 days exposed","x":36.1,"y":20.2},{"s":"14 days exposed","x":36.9,"y":10.2},{"s":"14 days exposed","x":37.9,"y":8},{"s":"14 days exposed","x":38.9,"y":10.9},{"s":"14 days exposed","x":39.9,"y":14.5},{"s":"14 days exposed","x":40.9,"y":14.8},{"s":"14 days exposed","x":41.9,"y":8.8},{"s":"14 days exposed","x":42.9,"y":10},{"s":"14 days exposed","x":44,"y":12.3},{"s":"14 days exposed","x":44.9,"y":16.2},{"s":"14 days exposed","x":45.7,"y":11.3},{"s":"14 days exposed","x":46.5,"y":12},{"s":"14 days exposed","x":47.3,"y":18},{"s":"14 days exposed","x":48.1,"y":22.7},{"s":"14 days exposed","x":48.6,"y":20},{"s":"14 days exposed","x":49.4,"y":13},{"s":"14 days exposed","x":50.1,"y":10.2},{"s":"14 days exposed","x":51.1,"y":11.6},{"s":"14 days exposed","x":52.4,"y":15.2},{"s":"14 days exposed","x":53.6,"y":17.3},{"s":"14 days exposed","x":54.4,"y":8.8},{"s":"14 days exposed","x":55.4,"y":10.9},{"s":"14 days exposed","x":56.2,"y":7.7},{"s":"14 days exposed","x":57.4,"y":12.7},{"s":"14 days exposed","x":58.7,"y":15.2},{"s":"14 days exposed","x":60,"y":17},{"s":"14 days exposed","x":61.2,"y":20.9},{"s":"14 days exposed","x":62.4,"y":23},{"s":"14 days exposed","x":63.2,"y":19.4},{"s":"14 days exposed","x":63.7,"y":8},{"s":"14 days exposed","x":64.7,"y":10.9},{"s":"14 days exposed","x":66,"y":11.5},{"s":"14 days exposed","x":67.5,"y":12.5},{"s":"14 days exposed","x":68.5,"y":15.2},{"s":"14 days exposed","x":69.7,"y":15.9},{"s":"14 days exposed","x":71,"y":16.5},{"s":"14 days exposed","x":72.5,"y":18.7},{"s":"14 days exposed","x":73.5,"y":15.2},{"s":"14 days exposed","x":74.7,"y":19.4},{"s":"14 days exposed","x":76,"y":22.3},{"s":"14 days exposed","x":77,"y":18},{"s":"14 days exposed","x":78,"y":14.5},{"s":"14 days exposed","x":78.8,"y":17.3},{"s":"14 days exposed","x":79.8,"y":12.3},{"s":"14 days exposed","x":80.5,"y":18},{"s":"14 days exposed","x":81.5,"y":13.7},{"s":"14 days exposed","x":82.5,"y":10.9},{"s":"14 days exposed","x":83.5,"y":8},{"s":"14 days exposed","x":84.5,"y":6.6},{"s":"14 days exposed","x":85.6,"y":8.8},{"s":"14 days exposed","x":86.6,"y":10.9},{"s":"14 days exposed","x":87.6,"y":15.2},{"s":"14 days exposed","x":88.8,"y":19.4},{"s":"14 days exposed","x":90,"y":21.6},{"s":"14 days exposed","x":91.1,"y":20.2},{"s":"14 days exposed","x":92.1,"y":16.6},{"s":"14 days exposed","x":92.8,"y":13},{"s":"14 days exposed","x":93.6,"y":10.9},{"s":"14 days exposed","x":94.3,"y":8},{"s":"14 days exposed","x":95,"y":5.2},
{"s":"56.6 days exposed","x":0,"y":0},{"s":"56.6 days exposed","x":2.2,"y":1.3},{"s":"56.6 days exposed","x":3.7,"y":3.8},{"s":"56.6 days exposed","x":4.5,"y":6.6},{"s":"56.6 days exposed","x":5,"y":5.6},{"s":"56.6 days exposed","x":5.7,"y":7.3},{"s":"56.6 days exposed","x":7,"y":8.4},{"s":"56.6 days exposed","x":7.2,"y":8.8},{"s":"56.6 days exposed","x":7.8,"y":4.8},{"s":"56.6 days exposed","x":8.5,"y":5.9},{"s":"56.6 days exposed","x":9.2,"y":5.6},{"s":"56.6 days exposed","x":9.8,"y":3.4},{"s":"56.6 days exposed","x":10.8,"y":4.1},{"s":"56.6 days exposed","x":11.8,"y":2.7},{"s":"56.6 days exposed","x":12.5,"y":3.1},{"s":"56.6 days exposed","x":13.3,"y":3.8},{"s":"56.6 days exposed","x":14,"y":2},{"s":"56.6 days exposed","x":14.8,"y":3.1},{"s":"56.6 days exposed","x":15.8,"y":4.8},{"s":"56.6 days exposed","x":16.3,"y":3.1},{"s":"56.6 days exposed","x":17.3,"y":4.5},{"s":"56.6 days exposed","x":18.3,"y":6.6},{"s":"56.6 days exposed","x":19.3,"y":9.5},{"s":"56.6 days exposed","x":19.8,"y":4.5},{"s":"56.6 days exposed","x":20.8,"y":5.2},{"s":"56.6 days exposed","x":21.3,"y":6.3},{"s":"56.6 days exposed","x":21.8,"y":4.8},{"s":"56.6 days exposed","x":22.6,"y":5.9},{"s":"56.6 days exposed","x":23.1,"y":5.2},{"s":"56.6 days exposed","x":24.1,"y":5.9},{"s":"56.6 days exposed","x":24.8,"y":3.8},{"s":"56.6 days exposed","x":25.6,"y":3.1},{"s":"56.6 days exposed","x":26.8,"y":3.8},{"s":"56.6 days exposed","x":27.6,"y":3.1},{"s":"56.6 days exposed","x":28.8,"y":2.4},{"s":"56.6 days exposed","x":29.8,"y":3.8},{"s":"56.6 days exposed","x":30.9,"y":5.9},{"s":"56.6 days exposed","x":31.4,"y":8},{"s":"56.6 days exposed","x":31.9,"y":6.6},{"s":"56.6 days exposed","x":32.8,"y":10.2},{"s":"56.6 days exposed","x":33.4,"y":3.1},{"s":"56.6 days exposed","x":34.4,"y":2.4},{"s":"56.6 days exposed","x":35.4,"y":3.8},{"s":"56.6 days exposed","x":36.4,"y":3.1},{"s":"56.6 days exposed","x":37.9,"y":4.1},{"s":"56.6 days exposed","x":38.9,"y":3.4},{"s":"56.6 days exposed","x":39.9,"y":4.1},{"s":"56.6 days exposed","x":40.9,"y":3.1},{"s":"56.6 days exposed","x":41.9,"y":3.8},{"s":"56.6 days exposed","x":42.9,"y":4.1},{"s":"56.6 days exposed","x":44,"y":5.2},{"s":"56.6 days exposed","x":44.9,"y":5.9},{"s":"56.6 days exposed","x":46.2,"y":10.2},{"s":"56.6 days exposed","x":46.7,"y":5.2},{"s":"56.6 days exposed","x":47.4,"y":3.8},{"s":"56.6 days exposed","x":48.4,"y":3.6},{"s":"56.6 days exposed","x":49.4,"y":4.8},{"s":"56.6 days exposed","x":50.4,"y":3.4},{"s":"56.6 days exposed","x":51.4,"y":4},{"s":"56.6 days exposed","x":52.4,"y":3.1},{"s":"56.6 days exposed","x":53.4,"y":4},{"s":"56.6 days exposed","x":54.4,"y":4.8},{"s":"56.6 days exposed","x":55.4,"y":4.5},{"s":"56.6 days exposed","x":56.2,"y":2.4},{"s":"56.6 days exposed","x":57.4,"y":5.2},{"s":"56.6 days exposed","x":58.9,"y":8},{"s":"56.6 days exposed","x":60,"y":9.8},{"s":"56.6 days exposed","x":60.4,"y":4.5},{"s":"56.6 days exposed","x":61.4,"y":5.2},{"s":"56.6 days exposed","x":62.4,"y":5.9},{"s":"56.6 days exposed","x":63.4,"y":5},{"s":"56.6 days exposed","x":64.4,"y":5.6},{"s":"56.6 days exposed","x":65.4,"y":4.8},{"s":"56.6 days exposed","x":66.5,"y":4.5},{"s":"56.6 days exposed","x":67.5,"y":4.8},{"s":"56.6 days exposed","x":69,"y":3.8},{"s":"56.6 days exposed","x":70.5,"y":4.5},{"s":"56.6 days exposed","x":71.5,"y":5},{"s":"56.6 days exposed","x":72.5,"y":8},{"s":"56.6 days exposed","x":73,"y":4.5},{"s":"56.6 days exposed","x":74,"y":5.2},{"s":"56.6 days exposed","x":75,"y":6.6},{"s":"56.6 days exposed","x":76,"y":4.1},{"s":"56.6 days exposed","x":77.5,"y":3.8},{"s":"56.6 days exposed","x":78.5,"y":2.7},{"s":"56.6 days exposed","x":79.5,"y":3.8},{"s":"56.6 days exposed","x":80.5,"y":4.1},{"s":"56.6 days exposed","x":81.5,"y":4.8},{"s":"56.6 days exposed","x":82.5,"y":3.4},{"s":"56.6 days exposed","x":83.5,"y":4.5},{"s":"56.6 days exposed","x":84.5,"y":6.6},{"s":"56.6 days exposed","x":85.6,"y":8.8},{"s":"56.6 days exposed","x":86.8,"y":10.2},{"s":"56.6 days exposed","x":87.3,"y":5.2},{"s":"56.6 days exposed","x":88.3,"y":3.8},{"s":"56.6 days exposed","x":89.1,"y":3.1},{"s":"56.6 days exposed","x":90.1,"y":2.7},{"s":"56.6 days exposed","x":91.1,"y":1.3},{"s":"56.6 days exposed","x":91.6,"y":0.2},{"s":"56.6 days exposed","x":93,"y":0.1},{"s":"56.6 days exposed","x":95,"y":0.1}
]
},
"concat": [
  {
    "hconcat": [
      {"width": 43, "height": 1, "data": {"values": []}, "mark": "point"},
      {
        "width": 561.5, "height": 415.3,
        "data": {"name": "a"},
        "title": {"text": "(a)", "orient": "bottom", "anchor": "middle", "frame": "group", "font": "Liberation Serif", "fontSize": 28, "fontWeight": "normal", "color": "#000000", "dx": -36, "offset": 8},
        "layer": [
          {
            "mark": {"type": "line", "strokeWidth": 1.5},
            "encoding": {
              "x": {"field": "x", "type": "quantitative", "scale": {"domain": [0, 95], "nice": false, "zero": false},
                    "axis": {"orient": "bottom", "values": [0,10,20,30,40,50,60,70,80,90], "labelExpr": "datum.value % 20 === 0 ? datum.label : ''", "tickSize": {"condition": {"test": "datum.value % 20 === 0", "value": -8}, "value": -4}, "labelFontSize": 20, "labelPadding": 18.5, "title": "extension (mm)", "titleFontSize": 23, "titleY": 44.8}},
              "y": {"field": "y", "type": "quantitative", "scale": {"domain": [0, 100], "nice": false},
                    "axis": {"orient": "left", "values": [0,5,10,15,20,25,30,35,40,45,50,55,60,65,70,75,80,85,90,95,100], "labelExpr": "datum.value % 10 === 0 ? datum.label : ''", "tickSize": {"condition": {"test": "datum.value % 10 === 0", "value": -8}, "value": -4}, "labelFontSize": 20, "labelPadding": 19.5, "title": "load (N)", "titleFontSize": 23, "titleX": -73.7, "titleY": 199.8}},
              "color": {"field": "s", "type": "nominal",
                        "scale": {"domain": ["baseline", "0.9 day exposed", "3.6 days exposed", "13 days exposed", "55 days exposed"], "range": ["#000000", "#ff1a1a", "#1ee81e", "#1a1acd", "#2fe0e8"]},
                        "legend": {"orient": "none", "legendX": 327, "legendY": 26.3, "title": null, "symbolType": "M-2.4,0H2.4", "symbolSize": 400, "symbolStrokeWidth": 1.5, "labelFont": "Liberation Sans", "labelFontSize": 21, "labelColor": "#000000", "labelOffset": 17.5, "rowPadding": 5.7, "labelLimit": 500, "padding": 0}}
            }
          },
          {
            "mark": {"type": "point", "opacity": 0},
            "encoding": {
              "x": {"field": "x", "type": "quantitative", "scale": {"domain": [0, 95], "nice": false, "zero": false},
                    "axis": {"orient": "top", "values": [0,10,20,30,40,50,60,70,80,90], "labels": false, "tickSize": {"condition": {"test": "datum.value % 20 === 0", "value": -8}, "value": -4}, "title": null}},
              "y": {"field": "y", "type": "quantitative", "scale": {"domain": [0, 100], "nice": false},
                    "axis": {"orient": "right", "values": [0,5,10,15,20,25,30,35,40,45,50,55,60,65,70,75,80,85,90,95,100], "labels": false, "tickSize": {"condition": {"test": "datum.value % 10 === 0", "value": -8}, "value": -4}, "title": null}}
            }
          }
        ],
        "resolve": {"scale": {"x": "independent", "y": "independent"}}
      }
    ],
    "spacing": 0,
    "resolve": {"scale": {"color": "independent"}, "legend": {"color": "independent"}}
  },
  {
    "hconcat": [
      {"width": 11.5, "height": 1, "data": {"values": []}, "mark": "point"},
      {
        "width": 630, "height": 468,
        "data": {"name": "b"},
        "title": {"text": "(b)", "orient": "bottom", "anchor": "middle", "frame": "group", "font": "Liberation Serif", "fontSize": 30, "fontWeight": "normal", "color": "#000000", "dx": -50, "offset": 4.2},
        "layer": [
          {
            "mark": {"type": "line", "strokeWidth": 1.8},
            "encoding": {
              "x": {"field": "x", "type": "quantitative", "scale": {"domain": [0, 95], "nice": false, "zero": false},
                    "axis": {"orient": "bottom", "values": [0,10,20,30,40,50,60,70,80,90], "labelExpr": "datum.value % 20 === 0 ? datum.label : ''", "tickSize": {"condition": {"test": "datum.value % 20 === 0", "value": -10}, "value": -5}, "labelFontSize": 24, "labelPadding": 17.2, "title": "extension (mm)", "titleFontSize": 26, "titleY": 49.2}},
              "y": {"field": "y", "type": "quantitative", "scale": {"domain": [0, 100], "nice": false},
                    "axis": {"orient": "left", "values": [0,5,10,15,20,25,30,35,40,45,50,55,60,65,70,75,80,85,90,95,100], "labelExpr": "datum.value % 10 === 0 ? datum.label : ''", "tickSize": {"condition": {"test": "datum.value % 10 === 0", "value": -10}, "value": -5}, "labelFontSize": 24, "labelPadding": 20, "title": "load (N)", "titleFontSize": 26, "titleX": -77.5, "titleY": 223.3}},
              "color": {"field": "s", "type": "nominal",
                        "scale": {"domain": ["baseline", "6 days exposed", "14 days exposed", "56.6 days exposed"], "range": ["#000000", "#ff1a1a", "#1ee81e", "#1a1acd"]},
                        "legend": {"orient": "none", "legendX": 354, "legendY": 17.3, "title": null, "symbolType": "M-2.75,0H2.75", "symbolSize": 400, "symbolStrokeWidth": 1.8, "labelFont": "Liberation Sans", "labelFontSize": 24, "labelColor": "#000000", "labelOffset": 19.5, "rowPadding": 5.3, "labelLimit": 500, "padding": 0}}
            }
          },
          {
            "mark": {"type": "point", "opacity": 0},
            "encoding": {
              "x": {"field": "x", "type": "quantitative", "scale": {"domain": [0, 95], "nice": false, "zero": false},
                    "axis": {"orient": "top", "values": [0,10,20,30,40,50,60,70,80,90], "labels": false, "tickSize": {"condition": {"test": "datum.value % 20 === 0", "value": -10}, "value": -5}, "title": null}},
              "y": {"field": "y", "type": "quantitative", "scale": {"domain": [0, 100], "nice": false},
                    "axis": {"orient": "right", "values": [0,5,10,15,20,25,30,35,40,45,50,55,60,65,70,75,80,85,90,95,100], "labels": false, "tickSize": {"condition": {"test": "datum.value % 10 === 0", "value": -10}, "value": -5}, "title": null}}
            }
          }
        ],
        "resolve": {"scale": {"x": "independent", "y": "independent"}}
      }
    ],
    "spacing": 0,
    "resolve": {"scale": {"color": "independent"}, "legend": {"color": "independent"}}
  }
],
"columns": 1,
"align": "none",
"bounds": "full",
"spacing": 44,
"resolve": {"scale": {"color": "independent"}, "legend": {"color": "independent"}}
}
